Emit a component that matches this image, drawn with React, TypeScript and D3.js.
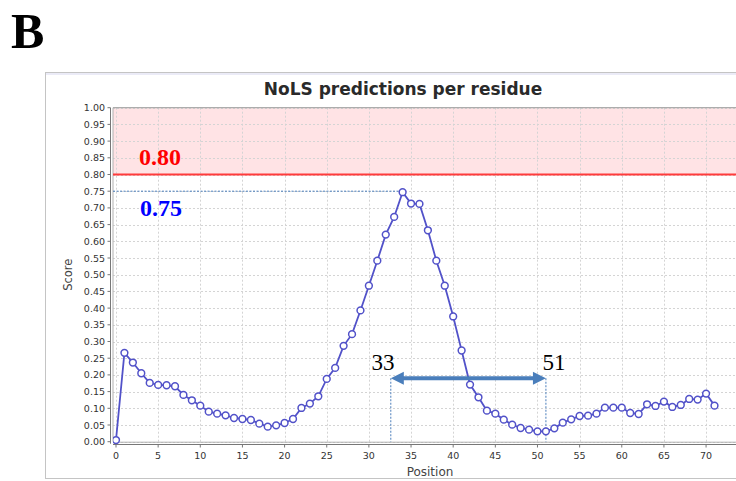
import React from "react";
import * as d3 from "d3";

const positions: number[] = d3.range(0, 72);
const scores: number[] = [
  0.005, 0.266, 0.237, 0.205, 0.176, 0.170, 0.169, 0.166, 0.140, 0.124,
  0.108, 0.090, 0.084, 0.079, 0.071, 0.068, 0.065, 0.054, 0.045, 0.049,
  0.056, 0.068, 0.101, 0.114, 0.136, 0.188, 0.221, 0.287, 0.322, 0.393,
  0.467, 0.542, 0.620, 0.673, 0.747, 0.713, 0.712, 0.633, 0.542, 0.467,
  0.375, 0.273, 0.171, 0.133, 0.093, 0.084, 0.066, 0.051, 0.041, 0.036,
  0.031, 0.031, 0.040, 0.057, 0.067, 0.077, 0.078, 0.084, 0.102, 0.102,
  0.102, 0.086, 0.083, 0.112, 0.107, 0.120, 0.104, 0.110, 0.128, 0.126,
  0.144, 0.108,
];
const xTicks: number[] = d3.range(0, 71, 5);
const yTicks: number[] = d3.range(0, 1.0001, 0.05);
const threshold = 0.8;
const peakScore = 0.75;
const peakPos = 34;
const rangeStart = 32.6;
const rangeEnd = 51;
const rangeStartLabel = "33";
const rangeEndLabel = "51";
const arrowLevel = 0.19;

export default function App() {
  const W = 736;
  const H = 481;
  const plotL = 113;
  const plotR = 762;
  const plotT = 107.7;
  const plotB = 441.7;
  const x = d3.scaleLinear().domain([0, 71]).range([116, 714.5]);
  const y = d3.scaleLinear().domain([0, 1]).range([plotB, plotT]);
  const line = d3
    .line<number>()
    .x((_, i) => x(positions[i]))
    .y((d) => y(d));
  const blue = "#5252c9";
  const arrowColor = "#4a7ebb";
  const ay = y(arrowLevel);
  const ax1 = x(rangeStart);
  const ax2 = x(rangeEnd);
  const head = 13;
  const hw = 6.5;

  return (
    <svg
      width={W}
      height={H}
      style={{ position: "absolute", left: 0, top: 0, background: "#fff" }}
      fontFamily="DejaVu Sans, sans-serif"
    >
      <defs>
        <clipPath id="clipPlot">
          <rect x={plotL} y={plotT - 4} width={plotR - plotL} height={plotB - plotT + 8} />
        </clipPath>
      </defs>
      <text x={11} y={48} fontFamily="Liberation Serif, serif" fontWeight="bold" fontSize={50} fill="#000">
        B
      </text>
      <rect x={45.5} y={72.5} width={740} height={406} fill="#fff" stroke="#c4c4c4" strokeWidth={1} />
      <line x1={46} x2={736} y1={74} y2={74} stroke="#e4e4f4" strokeWidth={1.5} />
      <text x={403} y={95} textAnchor="middle" fontWeight="bold" fontSize={17} fill="#2a2a2a">
        NoLS predictions per residue
      </text>
      <rect x={plotL} y={y(1)} width={plotR - plotL} height={y(threshold) - y(1)} fill="#ffe3e5" />
      <g stroke="#d4d4d4" strokeWidth={1} strokeDasharray="2,2">
        {yTicks.map((t) => (
          <line key={"gy" + t} x1={plotL} x2={plotR} y1={Math.round(y(t)) + 0.5} y2={Math.round(y(t)) + 0.5} />
        ))}
        {xTicks.map((t) => (
          <line key={"gx" + t} x1={Math.round(x(t)) + 0.5} x2={Math.round(x(t)) + 0.5} y1={plotT} y2={plotB} />
        ))}
      </g>
      <line x1={plotL} x2={plotR} y1={plotT} y2={plotT} stroke="#9a9a9a" strokeWidth={1} />
      <line x1={plotL} x2={plotL} y1={plotT} y2={plotB} stroke="#b0b0b0" strokeWidth={1} />
      <line x1={plotL} x2={plotR} y1={plotB + 0.5} y2={plotB + 0.5} stroke="#b0b0b0" strokeWidth={1} />
      <line x1={110.5} x2={110.5} y1={plotT} y2={plotB + 2} stroke="#777" strokeWidth={1} />
      <line x1={plotL} x2={plotR} y1={444.5} y2={444.5} stroke="#777" strokeWidth={1} />
      {yTicks.map((t) => (
        <g key={"yt" + t}>
          <line x1={107.5} x2={110.5} y1={y(t)} y2={y(t)} stroke="#777" />
          <text x={105} y={y(t) + 3.5} textAnchor="end" fontSize={9.5} fill="#333">
            {t.toFixed(2)}
          </text>
        </g>
      ))}
      {xTicks.map((t) => (
        <g key={"xt" + t}>
          <line x1={x(t)} x2={x(t)} y1={444.5} y2={447.5} stroke="#777" />
          <text x={x(t)} y={459} textAnchor="middle" fontSize={9.5} fill="#333">
            {t}
          </text>
        </g>
      ))}
      <text x={430} y={476} textAnchor="middle" fontSize={12} fill="#444">
        Position
      </text>
      <text transform={`translate(72,${(plotT + plotB) / 2}) rotate(-90)`} textAnchor="middle" fontSize={11.5} fill="#444">
        Score
      </text>
      <line x1={plotL} x2={plotR} y1={y(threshold)} y2={y(threshold)} stroke="#ff3b3b" strokeWidth={2} />
      <line x1={plotL} x2={x(peakPos)} y1={y(peakScore)} y2={y(peakScore)} stroke="#4a7ebb" strokeWidth={1} strokeDasharray="2,1.5" />
      <line x1={ax1} x2={ax1} y1={ay} y2={plotB} stroke="#4a7ebb" strokeWidth={1} strokeDasharray="2,1.5" />
      <line x1={ax2} x2={ax2} y1={ay} y2={plotB} stroke="#4a7ebb" strokeWidth={1} strokeDasharray="2,1.5" />
      <g clipPath="url(#clipPlot)">
        <path d={line(scores) || ""} fill="none" stroke={blue} strokeWidth={1.8} />
        {scores.map((s, i) => (
          <circle key={i} cx={x(positions[i])} cy={y(s)} r={3.4} fill="#fff" stroke={blue} strokeWidth={1.5} />
        ))}
      </g>
      <line x1={ax1 + head - 1} x2={ax2 - head + 1} y1={ay} y2={ay} stroke={arrowColor} strokeWidth={4} />
      <path d={`M${ax1},${ay} L${ax1 + head},${ay - hw} L${ax1 + head},${ay + hw} Z`} fill={arrowColor} />
      <path d={`M${ax2},${ay} L${ax2 - head},${ay - hw} L${ax2 - head},${ay + hw} Z`} fill={arrowColor} />
      <text x={383} y={370} textAnchor="middle" fontFamily="Liberation Serif, serif" fontSize={23} fill="#000">
        {rangeStartLabel}
      </text>
      <text x={554} y={370} textAnchor="middle" fontFamily="Liberation Serif, serif" fontSize={23} fill="#000">
        {rangeEndLabel}
      </text>
      <text x={139} y={165} fontFamily="Liberation Serif, serif" fontWeight="bold" fontSize={24} fill="#ff0000">
        {threshold.toFixed(2)}
      </text>
      <text x={140} y={216} fontFamily="Liberation Serif, serif" fontWeight="bold" fontSize={24} fill="#0000ff">
        {peakScore.toFixed(2)}
      </text>
    </svg>
  );
}
